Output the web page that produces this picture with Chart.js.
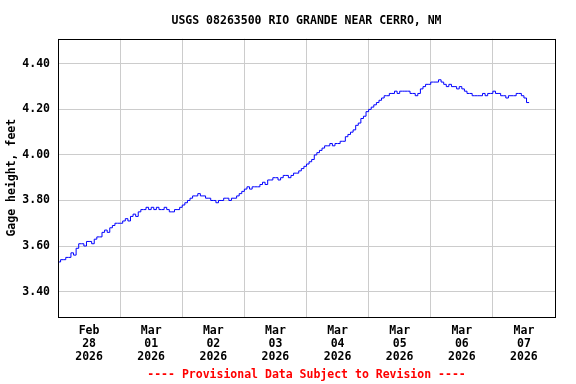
<!DOCTYPE html>
<html>
<head>
<meta charset="utf-8">
<script src="https://cdn.jsdelivr.net/npm/chart.js@4.4.1/dist/chart.umd.min.js"></script>
<style>
  html, body { margin: 0; padding: 0; background: #fff; }
  #wrap { width: 576px; height: 384px; }
</style>
</head>
<body>
<div id="wrap"><canvas id="gage"></canvas></div>
<script>
// Gage height, feet - hourly readings from 00:00 of each day
const feb28 = [3.53,3.54,3.54,3.55,3.55,3.57,3.56,3.59,3.61,3.61,3.60,3.62,3.62,3.61,3.63,3.64,3.64,3.66,3.67,3.66,3.68,3.69,3.70,3.70];
const mar01 = [3.70,3.71,3.72,3.71,3.73,3.74,3.73,3.75,3.76,3.76,3.77,3.76,3.77,3.76,3.77,3.76,3.76,3.77,3.76,3.75,3.75,3.76,3.76,3.77];
const mar02 = [3.78,3.79,3.80,3.81,3.82,3.82,3.83,3.82,3.82,3.81,3.81,3.80,3.80,3.79,3.80,3.80,3.81,3.81,3.80,3.81,3.81,3.82,3.83,3.84];
const mar03 = [3.85,3.86,3.85,3.86,3.86,3.86,3.87,3.88,3.87,3.89,3.89,3.90,3.90,3.89,3.90,3.91,3.91,3.90,3.91,3.92,3.92,3.93,3.94,3.95];
const mar04 = [3.96,3.97,3.98,4.00,4.01,4.02,4.03,4.04,4.04,4.05,4.04,4.05,4.05,4.06,4.06,4.08,4.09,4.10,4.11,4.13,4.14,4.16,4.17,4.19];
const mar05 = [4.20,4.21,4.22,4.23,4.24,4.25,4.26,4.26,4.27,4.27,4.28,4.27,4.28,4.28,4.28,4.28,4.27,4.27,4.26,4.27,4.29,4.30,4.31,4.31];
const mar06 = [4.32,4.32,4.32,4.33,4.32,4.31,4.30,4.31,4.30,4.30,4.29,4.30,4.29,4.28,4.27,4.27,4.26,4.26,4.26,4.26,4.27,4.26,4.27,4.27];
const mar07 = [4.28,4.27,4.27,4.26,4.26,4.25,4.26,4.26,4.26,4.27,4.27,4.26,4.25,4.23,4.23];

// x axis labels (one per day, centred at noon)
const dayMonths = ['Feb', 'Mar', 'Mar', 'Mar', 'Mar', 'Mar', 'Mar', 'Mar'];
const dayNums = ['28', '01', '02', '03', '04', '05', '06', '07'];
const dayYear = '2026';
const yTicks = [3.40, 3.60, 3.80, 4.00, 4.20, 4.40];

const allDays = [feb28, mar01, mar02, mar03, mar04, mar05, mar06, mar07];
const points = [];
allDays.forEach((vals, d) => {
    vals.forEach((v, h) => points.push({ x: d * 24 + h, y: v }));
});

const monoFont = { family: '"DejaVu Sans Mono", "Liberation Mono", monospace', size: 11.5, weight: 'bold' };

// black frame around the plot
const frame = {
    id: 'frame',
    afterDraw(chart) {
        const a = chart.chartArea, ctx = chart.ctx;
        ctx.save();
        ctx.strokeStyle = '#000';
        ctx.lineWidth = 1;
        ctx.strokeRect(Math.round(a.left) + 0.5, Math.round(a.top) + 0.5, Math.round(a.right - a.left), Math.round(a.bottom - a.top));
        ctx.restore();
    }
};

new Chart(document.getElementById('gage'), {
    type: 'line',
    data: {
        datasets: [{
            data: points,
            borderColor: '#0000ff',
            borderWidth: 1,
            pointRadius: 0,
            stepped: true,
            fill: false
        }]
    },
    options: {
        responsive: true,
        maintainAspectRatio: false,
        animation: false,
        layout: { padding: { left: 0, right: 21, top: 0, bottom: 0 } },
        plugins: {
            legend: { display: false },
            tooltip: { enabled: false },
            title: {
                display: true,
                text: 'USGS 08263500 RIO GRANDE NEAR CERRO, NM',
                color: '#000',
                font: monoFont,
                fullSize: false,
                padding: { top: 14, bottom: 11 }
            },
            subtitle: {
                display: true,
                position: 'bottom',
                text: '---- Provisional Data Subject to Revision ----',
                color: '#ff0000',
                font: monoFont,
                fullSize: false,
                padding: { top: 4, bottom: 2 }
            }
        },
        scales: {
            x: {
                type: 'linear',
                position: 'bottom',
                min: 0,
                max: 192,
                afterBuildTicks: s => { s.ticks = [0, 24, 48, 72, 96, 120, 144, 168, 192].map(v => ({ value: v })); },
                afterFit: s => { s.height = 0; },
                ticks: { display: false },
                grid: { color: '#cccccc', drawTicks: false },
                border: { display: false }
            },
            x2: {
                type: 'linear',
                position: 'bottom',
                min: 0,
                max: 192,
                afterBuildTicks: s => { s.ticks = dayNums.map((n, i) => ({ value: i * 24 + 12 })); },
                afterFit: s => { s.height = 47.6; },
                ticks: {
                    color: '#000',
                    font: { ...monoFont, lineHeight: 1.13 },
                    padding: 8,
                    maxRotation: 0,
                    autoSkip: false,
                    callback: (v, i) => [dayMonths[i], dayNums[i], dayYear]
                },
                grid: { display: false, drawTicks: false },
                border: { display: false }
            },
            y: {
                min: 3.29,
                max: 4.51,
                afterBuildTicks: s => { s.ticks = yTicks.map(v => ({ value: v })); },
                afterFit: s => { s.width = 58; },
                ticks: {
                    color: '#000',
                    font: monoFont,
                    padding: 8,
                    callback: v => v.toFixed(2)
                },
                grid: { color: '#cccccc', drawTicks: false },
                border: { display: false },
                title: {
                    display: true,
                    text: 'Gage height, feet',
                    color: '#000',
                    font: monoFont,
                    padding: { top: 5, bottom: 0 }
                }
            }
        }
    },
    plugins: [frame]
});
</script>
</body>
</html>
